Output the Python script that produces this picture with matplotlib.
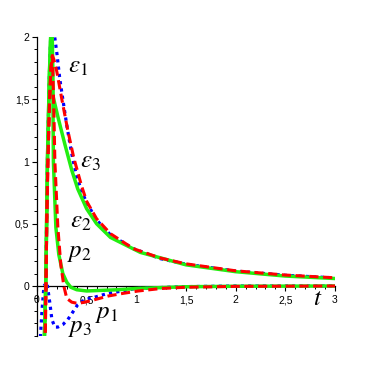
import matplotlib
matplotlib.use("Agg")
import matplotlib.pyplot as plt
from matplotlib.ticker import MultipleLocator, FuncFormatter

# strain curves eps_i(t)
t_eps1 = [0.07, 0.085, 0.09, 0.1, 0.11, 0.125, 0.14, 0.155, 0.17, 0.2, 0.25, 0.31, 0.37, 0.45, 0.5, 0.6, 0.74, 0.97, 1.24, 1.5, 2.0, 2.5, 3.0]
v_eps1 = [-0.8, -0.3, 0.0, 0.6, 1.0, 1.45, 1.75, 1.85, 1.82, 1.72, 1.5, 1.25, 1.03, 0.8, 0.68, 0.54, 0.42, 0.30, 0.225, 0.178, 0.122, 0.088, 0.066]

t_eps2 = [0.07, 0.075, 0.088, 0.1, 0.105, 0.125, 0.14, 0.15, 0.16, 0.21, 0.28, 0.35, 0.41, 0.5, 0.6, 0.74, 1.04, 1.5, 2.0, 2.5, 3.0]
v_eps2 = [-0.7, -0.4, 0.0, 0.7, 1.0, 1.7, 2.05, 2.25, 1.53, 1.36, 1.14, 0.93, 0.78, 0.62, 0.5, 0.39, 0.27, 0.17, 0.115, 0.08, 0.06]

t_eps3 = [0.07, 0.075, 0.088, 0.1, 0.105, 0.125, 0.14, 0.16, 0.18, 0.2, 0.23, 0.26, 0.3, 0.33, 0.36, 0.4, 0.45, 0.5, 0.6, 0.74, 0.97, 1.24, 1.5, 2.0, 2.5, 3.0]
v_eps3 = [-0.7, -0.4, 0.0, 0.7, 1.0, 1.7, 2.05, 2.3, 1.99, 1.87, 1.66, 1.5, 1.29, 1.15, 1.02, 0.88, 0.76, 0.67, 0.53, 0.41, 0.3, 0.22, 0.175, 0.12, 0.086, 0.065]

# p_i(t)
t_p1 = [0.07, 0.085, 0.09, 0.1, 0.11, 0.125, 0.14, 0.155, 0.17, 0.18, 0.21, 0.24, 0.27, 0.3, 0.35, 0.41, 0.48, 0.58, 0.72, 0.86, 1.02, 1.25, 1.5, 2.0, 3.0]
v_p1 = [-0.8, -0.3, 0.0, 0.6, 1.0, 1.45, 1.75, 1.85, 1.4, 1.0, 0.47, 0.17, 0.0, -0.1, -0.13, -0.14, -0.13, -0.11, -0.08, -0.06, -0.04, -0.02, -0.01, -0.003, 0.0]

t_p2 = [0.07, 0.075, 0.088, 0.1, 0.105, 0.125, 0.14, 0.15, 0.16, 0.165, 0.19, 0.22, 0.26, 0.3, 0.34, 0.4, 0.5, 0.65, 0.82, 1.0, 1.5, 2.0, 3.0]
v_p2 = [-0.7, -0.4, 0.0, 0.7, 1.0, 1.7, 2.05, 2.25, 1.53, 1.0, 0.47, 0.25, 0.1, 0.03, -0.01, -0.03, -0.04, -0.035, -0.03, -0.02, -0.006, -0.002, 0.0]

t_p3 = [0.03, 0.05, 0.07, 0.1, 0.13, 0.15, 0.18, 0.21, 0.26, 0.31, 0.36, 0.41, 0.48, 0.58, 0.71, 0.86, 0.99, 1.5, 2.0, 3.0]
v_p3 = [-0.47, -0.2, 0.0, 0.03, -0.14, -0.27, -0.33, -0.33, -0.31, -0.27, -0.21, -0.15, -0.11, -0.09, -0.06, -0.04, -0.02, -0.005, 0.0, 0.0]

red = "#ff0000"
green = "#22ee11"
blue = "#0000ff"

plt.rcParams["mathtext.fontset"] = "stix"
plt.rcParams["font.family"] = ["Liberation Sans", "DejaVu Sans"]

fig = plt.figure(figsize=(3.73, 3.73), dpi=100)
ax = fig.add_axes([37 / 373, (373 - 335.8) / 373, 298 / 373, 298.8 / 373])

ax.plot(t_eps3, v_eps3, color=blue, lw=2.3, ls=(0, (1, 1.3)), zorder=2)
ax.plot(t_p3, v_p3, color=blue, lw=2.3, ls=(0, (1, 1.3)), zorder=2)
ax.plot(t_eps2, v_eps2, color=green, lw=2.5, zorder=3)
ax.plot(t_p2, v_p2, color=green, lw=2.5, zorder=3)
ax.plot(t_eps1, v_eps1, color=red, lw=2.2, ls=(0, (3, 1.5)), zorder=4)
ax.plot(t_p1, v_p1, color=red, lw=2.2, ls=(0, (3, 1.5)), zorder=4)

ax.set_xlim(0, 3)
ax.set_ylim(-0.4, 2)
for s in ["top", "right"]:
    ax.spines[s].set_visible(False)
ax.spines["left"].set_position(("data", 0))
ax.spines["bottom"].set_position(("data", 0))
for s in ["left", "bottom"]:
    ax.spines[s].set_linewidth(0.9)
    ax.spines[s].set_zorder(1)

comma = FuncFormatter(lambda v, p: ("%g" % v).replace(".", ","))
ax.xaxis.set_major_locator(MultipleLocator(0.5))
ax.xaxis.set_minor_locator(MultipleLocator(0.1))
ax.yaxis.set_major_locator(MultipleLocator(0.5))
ax.yaxis.set_minor_locator(MultipleLocator(0.1))
ax.xaxis.set_major_formatter(comma)
ax.yaxis.set_major_formatter(FuncFormatter(lambda v, p: "" if v < 0 else ("%g" % v).replace(".", ",")))
ax.tick_params(which="major", direction="out", length=3.5, width=0.8, labelsize=7.5, pad=2)
ax.tick_params(which="minor", direction="out", length=2, width=0.7)
ax.tick_params(axis="x", pad=3)
ax.patch.set_visible(False)

lab = dict(fontsize=18, va="baseline", ha="left", color="black")
ax.text(0.31, 1.71, r"$\varepsilon_1$", **lab)
ax.text(0.43, 0.95, r"$\varepsilon_3$", **lab)
ax.text(0.33, 0.47, r"$\varepsilon_2$", **lab)
ax.text(0.30, 0.23, r"$p_2$", **lab)
ax.text(0.58, -0.26, r"$p_1$", **lab)
ax.text(0.31, -0.37, r"$p_3$", **lab)
ax.text(2.78, -0.15, r"$t$", **lab)

fig.savefig("out.png", dpi=100)
